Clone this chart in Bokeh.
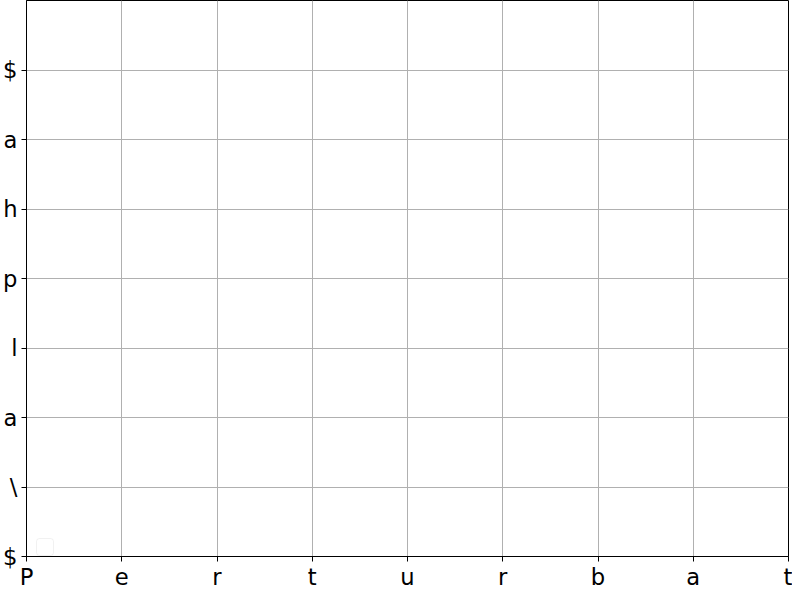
from bokeh.plotting import figure
from bokeh.models import FixedTicker, BoxAnnotation, Range1d
from bokeh.embed import file_html
from bokeh.resources import INLINE

x_labels = ["P", "e", "r", "t", "u", "r", "b", "a", "t"]
y_labels = ["$", "\\", "a", "l", "p", "h", "a", "$"]

p = figure(width=792, height=592, output_backend="svg", toolbar_location=None,
           x_range=Range1d(0, 8), y_range=Range1d(0, 8),
           min_border_left=25, min_border_top=0, min_border_right=4, min_border_bottom=33)
p.outline_line_color = "black"
p.outline_line_width = 1

p.xaxis.ticker = FixedTicker(ticks=list(range(len(x_labels))))
p.xaxis.major_label_overrides = {i: s for i, s in enumerate(x_labels)}
p.yaxis.ticker = FixedTicker(ticks=list(range(len(y_labels))))
p.yaxis.major_label_overrides = {i: s for i, s in enumerate(y_labels)}

for ax in (p.xaxis, p.yaxis):
    ax.major_label_text_font = "DejaVu Sans"
    ax.major_label_text_font_size = "17pt"
    ax.major_label_text_color = "black"
    ax.minor_tick_line_color = None
    ax.major_tick_in = 0
    ax.major_tick_out = 5
    ax.axis_line_color = "black"
    ax.major_tick_line_color = "black"
p.xaxis.major_label_standoff = 2
p.yaxis.major_label_standoff = 4

p.grid.grid_line_color = "#b0b0b0"
p.grid.grid_line_width = 1

# empty legend box
p.add_layout(BoxAnnotation(left=10, right=27, top=18, bottom=1,
                           left_units="screen", right_units="screen",
                           top_units="screen", bottom_units="screen",
                           fill_color="white", fill_alpha=0.8,
                           line_color="#d0d0d0", line_width=1, border_radius=3))
# use canvas coordinates: bokeh screen y is from top for annotations
open("out.html", "w").write(file_html(p, INLINE))
